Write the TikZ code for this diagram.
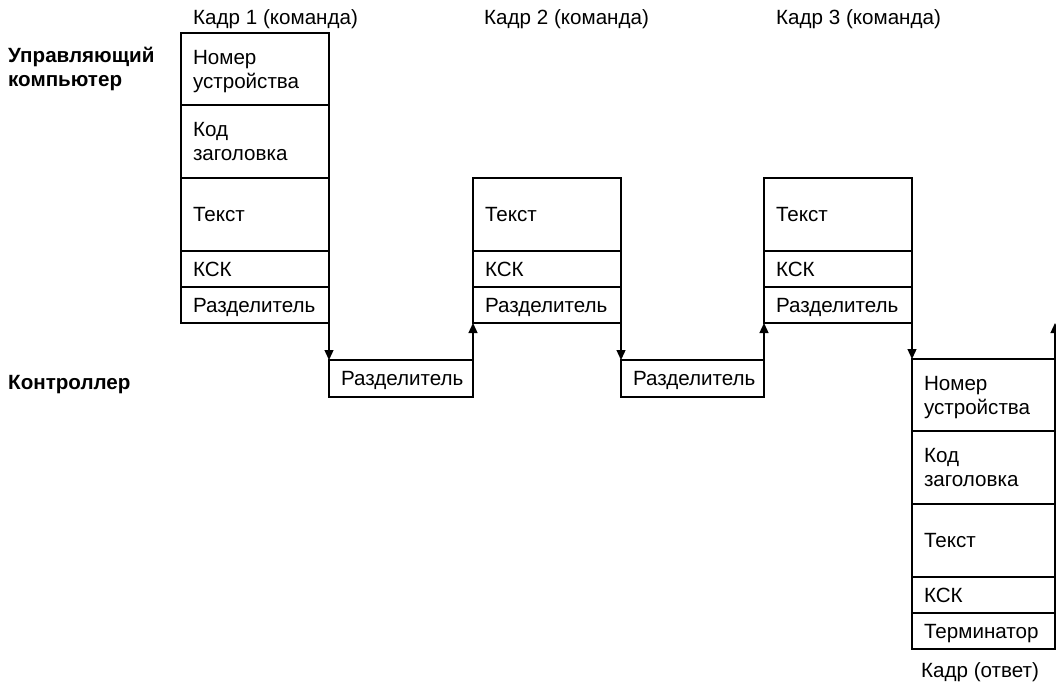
\documentclass[tikz,border=0pt]{standalone}
\usepackage{fontspec}
\setmainfont{Liberation Sans}
\usetikzlibrary{arrows.meta}
\newcommand{\fs}{\fontsize{20.6}{24}\selectfont}
\begin{document}
\begin{tikzpicture}[x=1pt,y=-1pt,
  cell/.style={draw, line width=1.3pt, anchor=north west, outer sep=0pt,
    minimum width=148pt, text width=124pt, inner xsep=12pt, inner ysep=0pt,
    text depth=0pt, align=left, font=\fs},
  two/.style={text depth=24pt},
  rcell/.style={cell, minimum width=143pt, text width=119pt},
  hA/.style={cell, two, minimum height=72pt},
  hT/.style={cell, two, minimum height=73pt},
  hB/.style={cell, minimum height=73pt},
  hS/.style={cell, minimum height=36pt},
  rA/.style={rcell, two, minimum height=72pt},
  rT/.style={rcell, two, minimum height=73pt},
  rB/.style={rcell, minimum height=73pt},
  rS/.style={rcell, minimum height=36pt},
  sep/.style={cell, minimum width=144pt, text width=120pt, minimum height=37pt},
  lbl/.style={anchor=west, inner sep=0pt, font=\fs},
  side/.style={anchor=west, inner sep=0pt, align=left, font=\fs\bfseries},
  arr/.style={line width=1.3pt, -{Triangle[width=9pt,length=10pt]}}
]
\useasboundingbox (0,0) rectangle (1056,686);

% side labels
\node[side] (host) at (8,69) {Управляющий\\компьютер};
\node[side] (ctrl) at (8,385) {Контроллер};

% frame 1
\node[lbl] (t1) at (193,19) {Кадр 1 (команда)};
\node[hA] (f1a) at (181,33) {Номер\\устройства};
\node[hT] (f1b) at (f1a.south west) {Код\\заголовка};
\node[hB] (f1c) at (f1b.south west) {Текст};
\node[hS] (f1d) at (f1c.south west) {КСК};
\node[hS] (f1e) at (f1d.south west) {Разделитель};

% frame 2
\node[lbl] (t2) at (484,19) {Кадр 2 (команда)};
\node[hB] (f2c) at (473,178) {Текст};
\node[hS] (f2d) at (f2c.south west) {КСК};
\node[hS] (f2e) at (f2d.south west) {Разделитель};

% frame 3
\node[lbl] (t3) at (776,19) {Кадр 3 (команда)};
\node[hB] (f3c) at (764,178) {Текст};
\node[hS] (f3d) at (f3c.south west) {КСК};
\node[hS] (f3e) at (f3d.south west) {Разделитель};

% controller separators
\node[sep] (c1) at (329,360) {Разделитель};
\node[sep, minimum width=143pt, text width=119pt] (c2) at (621,360) {Разделитель};

% response frame
\node[rA] (r1) at (912,359) {Номер\\устройства};
\node[rT] (r2) at (r1.south west) {Код\\заголовка};
\node[rB] (r3) at (r2.south west) {Текст};
\node[rS] (r4) at (r3.south west) {КСК};
\node[rS] (r5) at (r4.south west) {Терминатор};
\node[lbl] (tr) at (921,672) {Кадр (ответ)};

% connectors
\draw[arr] (f1e.south east) -- (c1.north west);
\draw[arr] (c1.north east) -- (f2e.south west);
\draw[arr] (f2e.south east) -- (c2.north west);
\draw[arr] (c2.north east) -- (f3e.south west);
\draw[arr] (f3e.south east) -- (r1.north west);
\coordinate (up) at (1055,323);
\draw[arr] (r1.north east) -- (up);
\end{tikzpicture}
\end{document}
